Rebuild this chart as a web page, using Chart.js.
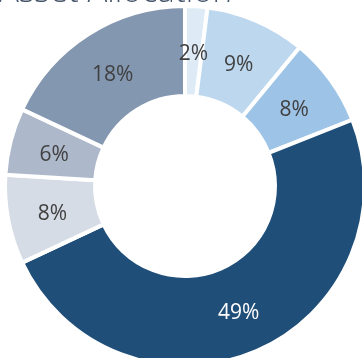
<!DOCTYPE html>
<html>
<head>
<meta charset="utf-8">
<script src="https://cdn.jsdelivr.net/npm/chart.js@4"></script>
<style>
  html, body { margin: 0; padding: 0; width: 362px; height: 358px; overflow: hidden; background: #fff; }
  #wrap { position: relative; width: 362px; height: 358px; overflow: hidden; }
  #chart { position: absolute; left: 0; top: 4px; }
  #title {
    position: absolute; right: 130px; top: -27px;
    font-family: "Open Sans"; font-weight: 300; font-size: 33px; line-height: 33px;
    color: #44546a; white-space: nowrap; text-align: right;
  }
</style>
</head>
<body>
<div id="wrap">
  <canvas id="chart" width="370" height="364"></canvas>
  <div id="title">Asset Allocation</div>
</div>
<script>
// data, clockwise from 12 o'clock
var labels = ['A', 'B', 'C', 'D', 'E', 'F', 'G'];
var values = [2, 9, 8, 49, 8, 6, 18];
var colors = ['#deebf7', '#bdd7ee', '#9dc3e6', '#1f4e79', '#d6dce5', '#adb9ca', '#8497b0'];
var labelColors = ['#404040', '#404040', '#404040', '#ffffff', '#404040', '#404040', '#404040'];

// percent labels in the middle of each ring slice
var sliceLabels = {
    id: 'sliceLabels',
    afterDatasetsDraw: function (chart) {
        var ctx = chart.ctx;
        var meta = chart.getDatasetMeta(0);
        ctx.save();
        ctx.font = '21px "Open Sans"';
        ctx.textAlign = 'center';
        ctx.textBaseline = 'alphabetic';
        meta.data.forEach(function (arc, i) {
            var p = arc.tooltipPosition();
            ctx.fillStyle = labelColors[i];
            ctx.fillText(values[i] + '%', p.x, p.y + 9);
        });
        ctx.restore();
    }
};

var ctx = document.getElementById('chart');
var myChart = new Chart(ctx, {
    type: 'doughnut',
    data: {
        labels: labels,
        datasets: [{
            data: values,
            backgroundColor: colors,
            borderColor: '#ffffff',
            borderWidth: 4
        }]
    },
    options: {
        responsive: false,
        animation: false,
        cutout: '50%',
        layout: { padding: 0 },
        plugins: {
            legend: { display: false },
            tooltip: { enabled: false },
            title: { display: false }
        }
    },
    plugins: [sliceLabels]
});
</script>
</body>
</html>
